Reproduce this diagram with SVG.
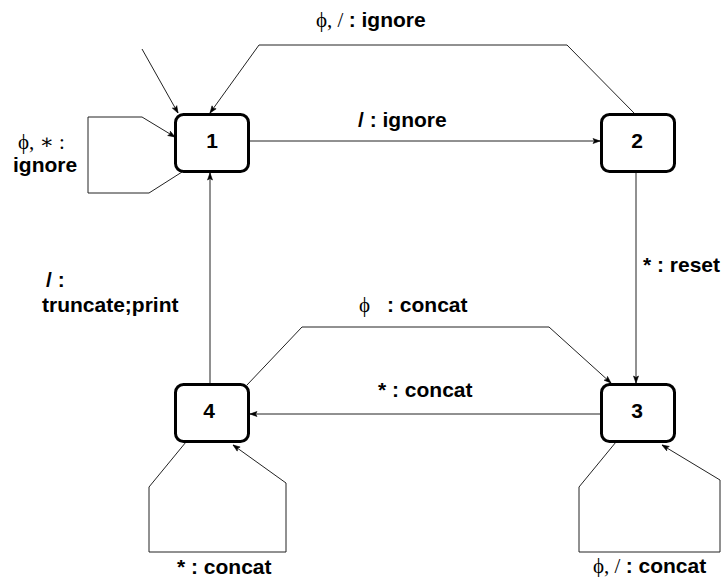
<svg xmlns="http://www.w3.org/2000/svg" width="724" height="577" viewBox="0 0 724 577">
<style>
.node{fill:#fff;stroke:#000;stroke-width:3}
.nl{font-family:"Liberation Sans",Arial,sans-serif;font-weight:bold;font-size:21px;text-anchor:middle;fill:#000}
.edge{fill:none;stroke:#222;stroke-width:1}
.lb{font-family:"Liberation Sans",Arial,sans-serif;font-weight:bold;font-size:21px;fill:#000}
.sr{font-family:"Liberation Serif","DejaVu Serif",serif;font-weight:normal;font-size:21px}
</style>
<defs>
<marker id="ah" markerUnits="userSpaceOnUse" markerWidth="9" markerHeight="7" refX="7" refY="2.5" orient="auto" viewBox="0 0 9 7" overflow="visible">
<path d="M0,0 L7,2.5 L0,5 L1.5,2.5 z" fill="#000" stroke="#000" stroke-width="0.6" stroke-linejoin="round"/>
</marker>
</defs>
<rect width="724" height="577" fill="#fff"/>
<g id="connectors">
<path class="edge" d="M142,49 L178,113" marker-end="url(#ah)"/>
<path class="edge" d="M635,114 L567,45 L259,45 L210,113" marker-end="url(#ah)"/>
<path class="edge" d="M249,141 L600,141" marker-end="url(#ah)"/>
<path class="edge" d="M182,172 L149,193 L88,193 L88,117 L142,117 L175,137" marker-end="url(#ah)"/>
<path class="edge" d="M210,384 L210,173" marker-end="url(#ah)"/>
<path class="edge" d="M636,172 L636,383" marker-end="url(#ah)"/>
<path class="edge" d="M247,385 L302,327 L549,327 L611,383" marker-end="url(#ah)"/>
<path class="edge" d="M601,414 L250,414" marker-end="url(#ah)"/>
<path class="edge" d="M186,442 L149,487 L149,552 L286,552 L286,483 L233,445" marker-end="url(#ah)"/>
<path class="edge" d="M616,442 L579,487 L579,552 L720,552 L720,480 L662,445" marker-end="url(#ah)"/>
</g>
<g id="edge-labels">
<text class="lb" x="316" y="27"><tspan class="sr">ϕ, / </tspan>: ignore</text>
<text class="lb" x="358" y="127">/ : ignore</text>
<text class="sr" x="18" y="149">ϕ, ∗ :</text>
<text class="lb" x="13" y="172">ignore</text>
<text class="lb" x="46" y="287">/ :</text>
<text class="lb" x="42" y="312">truncate;print</text>
<text class="lb" x="643" y="272">* : reset</text>
<text class="lb" x="359" y="312"><tspan class="sr">ϕ</tspan><tspan x="387">: concat</tspan></text>
<text class="lb" x="378" y="397">* : concat</text>
<text class="lb" x="177" y="574">* : concat</text>
<text class="lb" x="593" y="573"><tspan class="sr">ϕ, / </tspan>: concat</text>
</g>
<g id="node1"><rect class="node" x="175.5" y="114.5" width="73" height="57" rx="8"/><text class="nl" x="212" y="148">1</text></g>
<g id="node2"><rect class="node" x="601.5" y="114.5" width="73" height="57" rx="8"/><text class="nl" x="637" y="148">2</text></g>
<g id="node3"><rect class="node" x="601.5" y="384.5" width="73" height="57" rx="8"/><text class="nl" x="637" y="418">3</text></g>
<g id="node4"><rect class="node" x="175.5" y="384.5" width="73" height="57" rx="8"/><text class="nl" x="209" y="418">4</text></g>
</svg>
